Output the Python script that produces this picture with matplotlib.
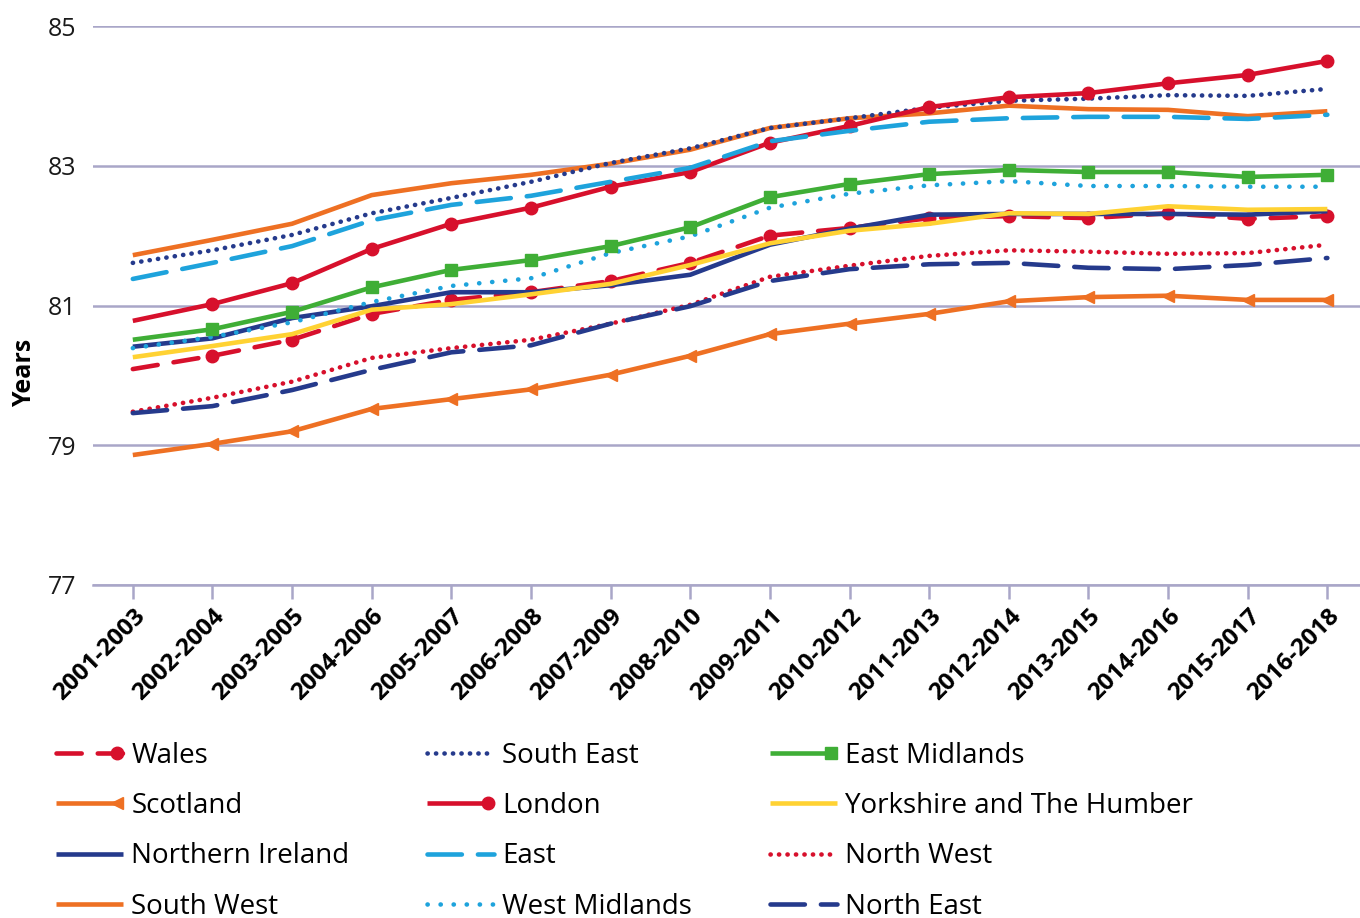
import matplotlib
matplotlib.use('agg')
import matplotlib.pyplot as plt
from matplotlib.legend_handler import HandlerLine2DCompound

plt.rcParams['font.family'] = ['Open Sans', 'DejaVu Sans']

periods = ['2001-2003', '2002-2004', '2003-2005', '2004-2006', '2005-2007', '2006-2008',
           '2007-2009', '2008-2010', '2009-2011', '2010-2012', '2011-2013', '2012-2014',
           '2013-2015', '2014-2016', '2015-2017', '2016-2018']

# life expectancy by region (years)
wales = [80.09, 80.28, 80.51, 80.88, 81.08, 81.19, 81.35, 81.61, 82.00, 82.11, 82.25, 82.28, 82.25, 82.32, 82.24, 82.28]
scotland = [78.86, 79.02, 79.20, 79.52, 79.66, 79.80, 80.01, 80.28, 80.59, 80.74, 80.88, 81.06, 81.12, 81.14, 81.08, 81.08]
northern_ireland = [80.41, 80.53, 80.82, 80.99, 81.19, 81.19, 81.29, 81.44, 81.87, 82.10, 82.30, 82.31, 82.31, 82.31, 82.30, 82.35]
south_west = [81.72, 81.94, 82.17, 82.58, 82.75, 82.87, 83.03, 83.23, 83.54, 83.68, 83.75, 83.86, 83.81, 83.80, 83.71, 83.78]
south_east = [81.61, 81.79, 82.01, 82.32, 82.54, 82.77, 83.04, 83.25, 83.54, 83.68, 83.83, 83.93, 83.96, 84.01, 84.00, 84.10]
london = [80.78, 81.02, 81.32, 81.81, 82.17, 82.40, 82.70, 82.91, 83.33, 83.57, 83.84, 83.98, 84.04, 84.18, 84.30, 84.50]
east = [81.38, 81.61, 81.85, 82.22, 82.44, 82.57, 82.77, 82.97, 83.35, 83.50, 83.63, 83.68, 83.70, 83.70, 83.67, 83.73]
west_midlands = [80.39, 80.55, 80.76, 81.05, 81.28, 81.39, 81.75, 81.99, 82.40, 82.60, 82.72, 82.78, 82.71, 82.71, 82.70, 82.70]
east_midlands = [80.51, 80.66, 80.91, 81.26, 81.51, 81.65, 81.85, 82.12, 82.55, 82.74, 82.88, 82.94, 82.91, 82.91, 82.84, 82.87]
yorkshire = [80.26, 80.42, 80.59, 80.94, 81.02, 81.16, 81.31, 81.58, 81.89, 82.07, 82.17, 82.32, 82.31, 82.42, 82.37, 82.38]
north_west = [79.48, 79.68, 79.91, 80.25, 80.39, 80.51, 80.74, 81.01, 81.41, 81.57, 81.71, 81.79, 81.77, 81.74, 81.75, 81.87]
north_east = [79.46, 79.56, 79.79, 80.08, 80.33, 80.43, 80.74, 80.99, 81.35, 81.52, 81.59, 81.61, 81.54, 81.52, 81.58, 81.68]

red = '#d7102c'
orange = '#ee7023'
navy = '#253a8c'
blue = '#1ea3dc'
green = '#3fae36'
yellow = '#ffd233'

dot = (0, (0.05, 1.8))
dot_wide = (0, (0.05, 2.8))

# (name, values, colour, linestyle, marker)
series = [
    ('Wales', wales, red, (0, (5.5, 3.5)), 'o'),
    ('Scotland', scotland, orange, '-', '<'),
    ('Northern Ireland', northern_ireland, navy, '-', None),
    ('South West', south_west, orange, '-', None),
    ('South East', south_east, navy, dot, None),
    ('London', london, red, '-', 'o'),
    ('East', east, blue, (0, (7.5, 3.5)), None),
    ('West Midlands', west_midlands, blue, dot_wide, None),
    ('East Midlands', east_midlands, green, '-', 's'),
    ('Yorkshire and The Humber', yorkshire, yellow, '-', None),
    ('North West', north_west, red, dot, None),
    ('North East', north_east, navy, (0, (7.5, 3.5)), None),
]


# marker at the right end of the legend line, like in the original
class EndMarker(HandlerLine2DCompound):
    def get_xdata(self, legend, xdescent, ydescent, width, height, fontsize):
        xdata, _ = super().get_xdata(legend, xdescent, ydescent, width, height, fontsize)
        return xdata, [width - xdescent - 4]

    def create_artists(self, *args, **kwargs):
        arts = super().create_artists(*args, **kwargs)
        for a in arts:
            a.set_markevery(None)
        return arts


fig = plt.figure(figsize=(13.6, 9.18), dpi=100)
ax = fig.add_axes([93 / 1360, 1 - 585 / 918, 1 - 93 / 1360, (585 - 26) / 918])

x = list(range(len(periods)))
handles = []
for name, vals, col, ls, mk in series:
    ln, = ax.plot(x, vals, color=col, lw=3.3, linestyle=ls, marker=mk, markersize=9,
                  markevery=slice(1, None), dash_capstyle='round', solid_capstyle='butt',
                  label=name, zorder=3)
    handles.append(ln)

ax.set_ylim(77, 85)
ax.set_xlim(-0.5, 15.41)
ax.set_yticks([77, 79, 81, 83, 85])
ax.yaxis.grid(True, color='#a9a6c8', lw=1.8)
ax.set_axisbelow(True)
for s in ['top', 'right', 'left']:
    ax.spines[s].set_visible(False)
ax.spines['bottom'].set_color('#a9a6c8')
ax.spines['bottom'].set_linewidth(1.8)
ax.tick_params(axis='y', length=0, labelsize=18, pad=12, labelcolor='#1a1a1a')
ax.tick_params(axis='x', length=10, width=1.8, color='#a9a6c8', labelsize=17.5, pad=4)
ax.set_xticks(x)
ax.set_xticklabels(periods, rotation=45, ha='right', rotation_mode='anchor', fontweight='bold')
ax.set_ylabel('Years', fontsize=18, fontweight='bold')
ax.yaxis.set_label_coords(-0.044, 0.38)

fig.legend(handles=handles, ncol=3, loc='upper left', bbox_to_anchor=(0.023, 0.219),
           frameon=False, fontsize=20, handlelength=2.4, handletextpad=0.3,
           columnspacing=2.8, labelspacing=0.8, numpoints=1,
           handler_map={h: EndMarker() for h in handles})

fig.savefig('out.png', dpi=100)
